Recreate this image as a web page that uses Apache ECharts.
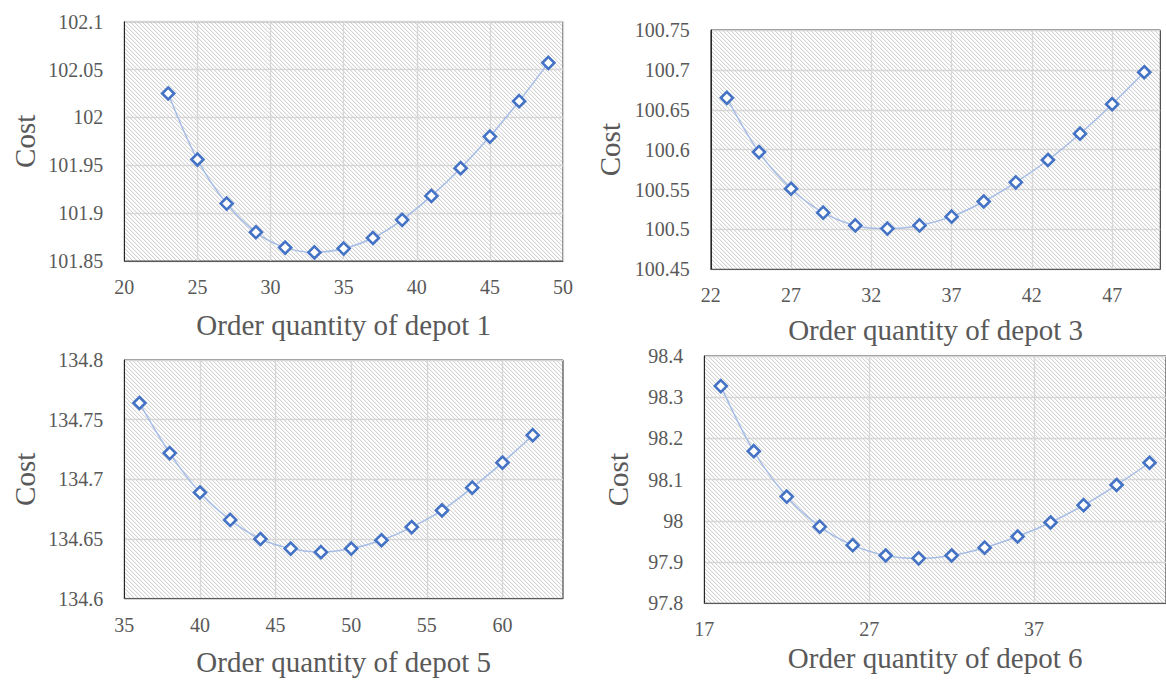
<!DOCTYPE html>
<html><head><meta charset="utf-8">
<script src="https://cdn.jsdelivr.net/npm/echarts@6/dist/echarts.min.js"></script>
<style>html,body{margin:0;padding:0;background:#fff}#c{width:1166px;height:680px}</style>
</head><body><div id="c"></div>
<script>
// Panel 1: depot 1
const qty1 = [23,25,27,29,31,33,35,37,39,41,43,45,47,49];
const cost1 = [102.025,101.956,101.910,101.880,101.864,101.859,101.863,101.874,101.893,101.918,101.947,101.980,102.017,102.057];
const xTicks1 = [20,25,30,35,40,45,50];
const yTicks1 = [101.85,101.9,101.95,102,102.05,102.1];
// Panel 2: depot 3
const qty3 = [23,25,27,29,31,33,35,37,39,41,43,45,47,49];
const cost3 = [100.665,100.597,100.551,100.521,100.505,100.501,100.505,100.516,100.535,100.559,100.587,100.620,100.657,100.697];
const xTicks3 = [22,27,32,37,42,47];
const yTicks3 = [100.45,100.5,100.55,100.6,100.65,100.7,100.75];
// Panel 3: depot 5
const qty5 = [36,38,40,42,44,46,48,50,52,54,56,58,60,62];
const cost5 = [134.764,134.722,134.689,134.666,134.650,134.642,134.639,134.642,134.649,134.660,134.674,134.693,134.714,134.737];
const xTicks5 = [35,40,45,50,55,60];
const yTicks5 = [134.6,134.65,134.7,134.75,134.8];
// Panel 4: depot 6
const qty6 = [18,20,22,24,26,28,30,32,34,36,38,40,42,44];
const cost6 = [98.327,98.169,98.059,97.986,97.941,97.916,97.909,97.916,97.935,97.962,97.996,98.038,98.087,98.141];
const xTicks6 = [17,27,37];
const yTicks6 = [97.8,97.9,98,98.1,98.2,98.3,98.4];

const xNames = ['Order quantity of depot 1','Order quantity of depot 3','Order quantity of depot 5','Order quantity of depot 6'];
const yName = 'Cost';

// hatch pattern tile
const tile = document.createElement('canvas');
const P = 4; tile.width = P; tile.height = P;
const tc = tile.getContext('2d');
tc.fillStyle = '#ffffff'; tc.fillRect(0,0,P,P);
for (let y = 0; y < P; y++) for (let x = 0; x < P; x++) {
  const d = ((x - y) % P + P) % P;
  if (d === 0) { tc.fillStyle = '#d3d3d3'; tc.fillRect(x,y,1,1); }
  else if (d === 1) { tc.fillStyle = '#f3f3f3'; tc.fillRect(x,y,1,1); }
}
const hatch = { image: tile.toDataURL(), repeat: 'repeat' };

const FONT = 'Liberation Serif';
const GREY = '#595959';

const grids = [
  {left:124.3, top:21.7, width:438.7, height:239.3},
  {left:710.8, top:30, width:449.5, height:239.3},
  {left:124.3, top:360, width:438.7, height:238.7},
  {left:704.3, top:356, width:467.6, height:247.3}
].map(g => Object.assign(g, {show:true, backgroundColor: hatch, borderColor:'#262626', borderWidth:1, containLabel:false}));

const fmt = v => String(parseFloat((+v).toFixed(3)));

function xAxis(gi, min, max, ticks, gap) {
  return {type:'value', gridIndex:gi, min, max,
    name: xNames[gi], nameLocation:'middle', nameGap:gap,
    nameTextStyle:{color:GREY, fontFamily:FONT, fontSize:29},
    axisLine:{show:true, lineStyle:{color:'#595959', width:1}},
    axisTick:{show:false, customValues:ticks},
    axisLabel:{customValues:ticks, color:GREY, fontFamily:FONT, fontSize:20, margin:16, formatter:fmt},
    splitLine:{show:true, lineStyle:{color:'#d6d6d6', width:1.3}}};
}
function yAxis(gi, ticks, gap) {
  return {type:'value', gridIndex:gi, min:ticks[0], max:ticks[ticks.length-1],
    name: yName, nameLocation:'middle', nameGap:gap, nameRotate:90,
    nameTextStyle:{color:GREY, fontFamily:FONT, fontSize:29},
    axisLine:{show:true, lineStyle:{color:'#262626', width:1}},
    axisTick:{show:false, customValues:ticks},
    axisLabel:{customValues:ticks, color:GREY, fontFamily:FONT, fontSize:20, margin:21, formatter:fmt},
    splitLine:{show:true, lineStyle:{color:'#d6d6d6', width:1.3}}};
}

function series(gi, xs, ys) {
  return {type:'line', xAxisIndex:gi, yAxisIndex:gi, smooth:0.35,
    data: xs.map((x,i)=>[x, ys[i]]),
    symbol:'diamond', symbolSize:12,
    lineStyle:{color:'#a6bde6', width:1.5},
    itemStyle:{color:'#ffffff', borderColor:'#4472C4', borderWidth:2.6},
    emphasis:{disabled:true}, animation:false};
}

const chart = echarts.init(document.getElementById('c'), null, {renderer:'svg'});
chart.setOption({
  animation:false,
  backgroundColor:'#ffffff',
  grid: grids,
  xAxis: [
    xAxis(0, 20, 50, xTicks1, 49),
    xAxis(1, 22, 50, xTicks3, 46),
    xAxis(2, 35, 64, xTicks5, 49),
    xAxis(3, 17, 45, xTicks6, 40)
  ],
  yAxis: [
    yAxis(0, yTicks1, 85),
    yAxis(1, yTicks3, 86),
    yAxis(2, yTicks5, 85),
    yAxis(3, yTicks6, 72)
  ],
  series: [
    series(0, qty1, cost1),
    series(1, qty3, cost3),
    series(2, qty5, cost5),
    series(3, qty6, cost6)
  ]
});
</script></body></html>
